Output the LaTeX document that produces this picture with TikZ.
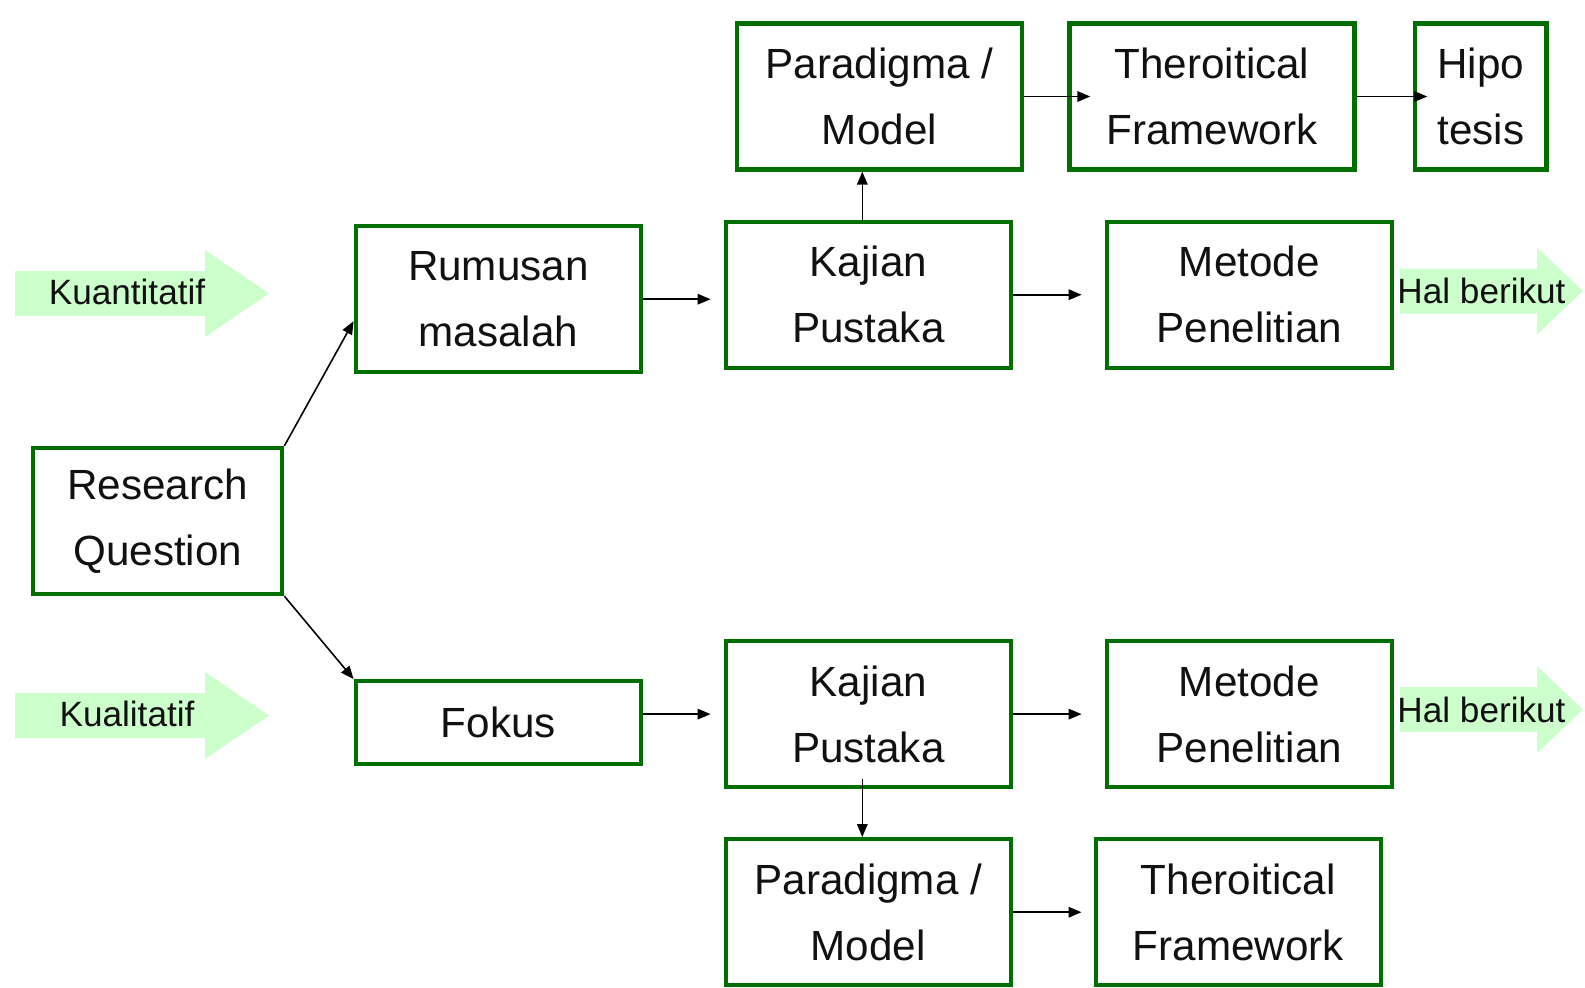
\documentclass[tikz,border=0pt]{standalone}
\usepackage{fontspec}
\setmainfont{Liberation Sans}
\usepackage{tikz}
\usepackage{xcolor}
\usetikzlibrary{arrows.meta, positioning, calc}
\definecolor{BoxGreen}{HTML}{006E00}
\definecolor{PaleGreen}{HTML}{CCFFCC}
\definecolor{Ink}{HTML}{111111}
% light green block arrow: left end, head start, tip, centre line
\newcommand{\fatarrow}[4]{%
  \fill[PaleGreen] (#1,#4-22.5) -- (#2,#4-22.5) -- (#2,#4-43.5) -- (#3,#4)
    -- (#2,#4+43.5) -- (#2,#4+22.5) -- (#1,#4+22.5) -- cycle;}

\begin{document}
\begin{tikzpicture}[x=0.01cm, y=-0.01cm,
    stepbox/.style={rectangle, draw=BoxGreen, line width=1.2pt, fill=white,
          minimum width=2.85cm, minimum height=1.46cm, align=center,
          text=Ink, font=\fontsize{12}{18.7}\selectfont, inner sep=2pt},
    tag/.style={text=Ink, font=\fontsize{10}{12}\selectfont, inner sep=0pt},
    link/.style={draw=black, line width=0.45pt,
          -{Triangle[length=3.7pt, width=3pt]}}]
    \useasboundingbox (0,0) rectangle (1585,987);

    % Side arrows
    \fatarrow{15}{205}{269}{293.5}
    \fatarrow{15}{205}{269}{715.5}
    \fatarrow{1400}{1537}{1583}{291}
    \fatarrow{1400}{1537}{1583}{709.5}
    \node[tag] (quan) at (127,292) {Kuantitatif};
    \node[tag] (qual) at (127,714) {Kualitatif};

    % Start
    \node[stepbox, minimum width=2.49cm] (rq) at (157.7,521) {Research\\Question};

    % Quantitative line
    \node[stepbox] (rumusan)    at (498.3,299.2) {Rumusan\\masalah};
    \node[stepbox] (kajianA)    at (868.3,294.7) {Kajian\\Pustaka};
    \node[stepbox] (metodeA)    at (1249.3,294.7) {Metode\\Penelitian};
    \node[stepbox] (paradigmaA) at (879.4,96.5) {Paradigma /\\Model};
    \node[stepbox] (theoriA)    at (1212,96.5) {Theroitical\\Framework};
    \node[stepbox, minimum width=1.31cm] (hipo) at (1480.9,96.5) {Hipo\\tesis};

    % Qualitative line
    \node[stepbox, minimum height=0.83cm] (fokus) at (498.3,722.7) {Fokus};
    \node[stepbox] (kajianB)    at (868.3,714.1) {Kajian\\Pustaka};
    \node[stepbox] (metodeB)    at (1249.3,714.1) {Metode\\Penelitian};
    \node[stepbox] (paradigmaB) at (868.3,912.2) {Paradigma /\\Model};
    \node[stepbox] (theoriB)    at (1238.2,912.2) {Theroitical\\Framework};

    \node[tag] (nextA) at (1481.5,291) {Hal berikut};
    \node[tag] (nextB) at (1481.5,709.5) {Hal berikut};

    % Connectors
    \draw[link] (rq.north east) -- ($(rumusan.west)+(0,22)$);
    \draw[link] (rq.south east) -- (fokus.north west);
    \draw[link, shorten >=0.13cm] (rumusan.east) -- (rumusan.east -| kajianA.west);
    \draw[link, shorten >=0.23cm] (kajianA.east) -- (metodeA.west);
    \draw[link] ([xshift=-0.06cm]kajianA.north) -- ([xshift=-0.06cm]kajianA.north |- paradigmaA.south);
    \draw[link, shorten >=-0.23cm] (paradigmaA.east) -- (paradigmaA.east -| theoriA.west);
    \draw[link, shorten >=-0.14cm] (theoriA.east) -- (theoriA.east -| hipo.west);
    \draw[link, shorten >=0.13cm] (fokus.east |- kajianB.west) -- (kajianB.west);
    \draw[link, shorten >=0.23cm] (kajianB.east) -- (metodeB.west);
    \draw[link] ([xshift=-0.06cm,yshift=0.1cm]kajianB.south) -- ([xshift=-0.06cm]kajianB.south |- paradigmaB.north);
    \draw[link, shorten >=0.12cm] (paradigmaB.east) -- (theoriB.west);
\end{tikzpicture}
\end{document}
